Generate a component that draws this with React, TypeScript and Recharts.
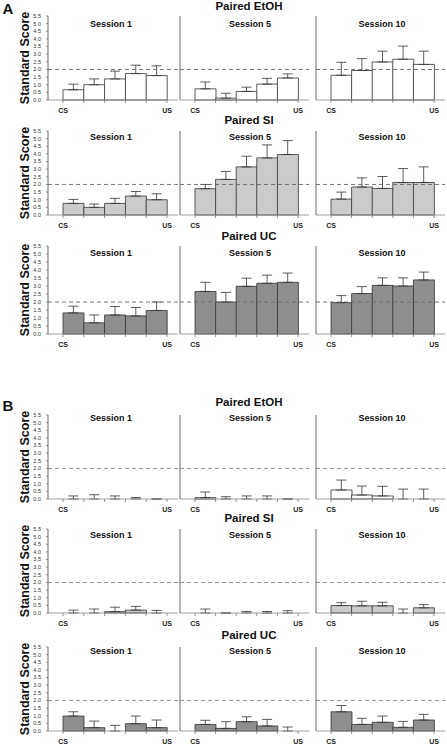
import React from "react";
import { ComposedChart, Bar, Line, XAxis, YAxis, ReferenceLine, ErrorBar } from "recharts";

const barSlots = ["1", "2", "3", "4", "5"];
const edgeLabels = ["CS", "US"];
const sessions = ["Session 1", "Session 5", "Session 10"];
const groups = ["Paired EtOH", "Paired SI", "Paired UC"];
const yTicks = [0, 0.5, 1, 1.5, 2, 2.5, 3, 3.5, 4, 4.5, 5, 5.5];
const criterion = 2.0;

// Panel A means / SEM, one inner array per session
const aEtohMean = [
  [0.67, 1.0, 1.38, 1.73, 1.6],
  [0.73, 0.12, 0.56, 1.04, 1.44],
  [1.62, 1.93, 2.49, 2.67, 2.33],
];
const aEtohSem = [
  [0.37, 0.38, 0.51, 0.55, 0.64],
  [0.45, 0.32, 0.28, 0.38, 0.27],
  [0.85, 0.78, 0.71, 0.86, 0.87],
];
const aSiMean = [
  [0.76, 0.5, 0.76, 1.24, 1.0],
  [1.72, 2.33, 3.15, 3.74, 3.96],
  [1.04, 1.83, 1.74, 2.13, 2.13],
];
const aSiSem = [
  [0.26, 0.22, 0.33, 0.3, 0.39],
  [0.28, 0.52, 0.7, 0.85, 0.91],
  [0.46, 0.6, 0.78, 0.91, 1.02],
];
const aUcMean = [
  [1.32, 0.7, 1.19, 1.13, 1.47],
  [2.66, 2.0, 2.98, 3.17, 3.23],
  [1.96, 2.53, 3.04, 3.0, 3.38],
];
const aUcSem = [
  [0.42, 0.49, 0.53, 0.53, 0.53],
  [0.57, 0.6, 0.51, 0.51, 0.58],
  [0.44, 0.43, 0.47, 0.51, 0.49],
];

// Panel B
const bEtohMean = [
  [0, 0, 0, 0, 0],
  [0.09, 0, 0, 0, 0],
  [0.59, 0.26, 0.2, 0, 0],
];
const bEtohSem = [
  [0.2, 0.28, 0.2, 0.1, 0],
  [0.37, 0.15, 0.2, 0.2, 0],
  [0.65, 0.59, 0.63, 0.65, 0.65],
];
const bSiMean = [
  [0, 0, 0.09, 0.19, 0],
  [0, 0, 0, 0, 0],
  [0.49, 0.47, 0.47, 0, 0.34],
];
const bSiSem = [
  [0.19, 0.26, 0.29, 0.24, 0.17],
  [0.26, 0, 0.1, 0.1, 0.15],
  [0.19, 0.3, 0.23, 0.26, 0.21],
];
const bUcMean = [
  [0.98, 0.22, 0, 0.48, 0.22],
  [0.43, 0.17, 0.61, 0.33, 0],
  [1.26, 0.43, 0.57, 0.24, 0.72],
];
const bUcSem = [
  [0.28, 0.43, 0.37, 0.5, 0.5],
  [0.27, 0.44, 0.32, 0.43, 0.26],
  [0.41, 0.4, 0.41, 0.39, 0.37],
];

const FONT = "'Liberation Sans', Arial, sans-serif";
const INK = "#333";
const fills = ["#ffffff", "#cbcbcb", "#8e8e8e"];

// layout
const cols = [
  { axisX: 48, endX: 178, labelX: 111 },
  { axisX: 180, endX: 309, labelX: 250 },
  { axisX: 316, endX: 445, labelX: 382 },
];
const panels = [
  {
    letter: "A",
    letterY: 8,
    dash: "#666",
    rows: [
      { top: 16, bottom: 100, titleY: 7, sessY: 24 },
      { top: 131, bottom: 215, titleY: 121, sessY: 137 },
      { top: 246, bottom: 334, titleY: 237, sessY: 253 },
    ],
    means: [aEtohMean, aSiMean, aUcMean],
    sems: [aEtohSem, aSiSem, aUcSem],
  },
  {
    letter: "B",
    letterY: 405,
    dash: "#8a8a8a",
    rows: [
      { top: 415, bottom: 499, titleY: 403, sessY: 418 },
      { top: 529, bottom: 613, titleY: 519, sessY: 535 },
      { top: 647, bottom: 731, titleY: 636, sessY: 651 },
    ],
    means: [bEtohMean, bSiMean, bUcMean],
    sems: [bEtohSem, bSiSem, bUcSem],
  },
];

const Y_W = 20;
const TOP_M = 6;
const PAD_L = 15;
const PAD_R = 11;

function Txt({ x, y, size, children, rotate }: any) {
  return (
    <div
      style={{
        position: "absolute",
        left: x,
        top: y,
        transform: `translate(-50%, -50%)${rotate ? " rotate(-90deg)" : ""}`,
        fontFamily: FONT,
        fontWeight: "bold",
        fontSize: size,
        whiteSpace: "nowrap",
        color: "#111",
        lineHeight: 1,
      }}
    >
      {children}
    </div>
  );
}

function SessionPlot({ col, row, means, sems, fill, dash, showLabels }: any) {
  const plotW = col.endX - col.axisX;
  const plotH = row.bottom - row.top;
  const band = (plotW - PAD_L - PAD_R) / barSlots.length;
  const data = barSlots.map((s, i) => ({ slot: s, mean: means[i], err: [0, sems[i]] }));

  const EdgeTick = (props: any) => {
    const { x, y, index } = props;
    const last = index === barSlots.length - 1;
    const lx = x - band / 2;
    const rx = x + band / 2;
    return (
      <g>
        <line x1={lx} x2={lx} y1={y} y2={y + 3} stroke="#777" strokeWidth={0.8} />
        {last && <line x1={rx} x2={rx} y1={y} y2={y + 3} stroke="#777" strokeWidth={0.8} />}
        {index === 0 && (
          <text x={lx} y={y + 11} textAnchor="middle" dominantBaseline="middle" fontSize={7} fontWeight="bold" fontFamily={FONT} fill="#222">
            {edgeLabels[0]}
          </text>
        )}
        {last && (
          <text x={rx} y={y + 11} textAnchor="middle" dominantBaseline="middle" fontSize={7} fontWeight="bold" fontFamily={FONT} fill="#222">
            {edgeLabels[1]}
          </text>
        )}
      </g>
    );
  };

  return (
    <div style={{ position: "absolute", left: col.axisX - Y_W, top: row.top - TOP_M }}>
      <ComposedChart
        width={Y_W + plotW + 1}
        height={TOP_M + plotH + 20}
        data={data}
        margin={{ top: TOP_M, right: 1, left: 0, bottom: 0 }}
        barCategoryGap={0}
      >
        <XAxis
          dataKey="slot"
          height={20}
          padding={{ left: PAD_L, right: PAD_R }}
          axisLine={{ stroke: "#888", strokeWidth: 0.8 }}
          tickLine={false}
          tickSize={0}
          tickMargin={0}
          interval={0}
          tick={<EdgeTick />}
        />
        <YAxis
          width={Y_W}
          type="number"
          domain={[0, 5.5]}
          ticks={yTicks}
          interval={0}
          axisLine={{ stroke: "#444", strokeWidth: 0.8 }}
          tickLine={{ stroke: "#555", strokeWidth: 0.6 }}
          tickSize={2}
          tickMargin={5}
          tickFormatter={(v: number) => v.toFixed(1)}
          tick={showLabels ? { fontSize: 5.5, fill: "#333", fontFamily: FONT } : false}
        />
        <Bar dataKey="mean" fill={fill} stroke={INK} strokeWidth={0.8} isAnimationActive={false} />
        {/* invisible line only carries the SEM whiskers, so zero-height bars keep theirs */}
        <Line dataKey="mean" stroke="none" dot={false} activeDot={false} isAnimationActive={false}>
          <ErrorBar dataKey="err" direction="y" width={5} stroke={INK} strokeWidth={0.8} />
        </Line>
        <ReferenceLine y={criterion} stroke={dash} strokeDasharray="4 3" strokeWidth={0.9} />
      </ComposedChart>
    </div>
  );
}

export default function App() {
  return (
    <div style={{ position: "absolute", left: 0, top: 0, width: 447, height: 745, background: "#fff", overflow: "hidden" }}>
      {panels.map((p) => (
        <React.Fragment key={p.letter}>
          <Txt x={8} y={p.letterY} size={15}>
            {p.letter}
          </Txt>
          {p.rows.map((row, ri) => (
            <React.Fragment key={ri}>
              <Txt x={249} y={row.titleY} size={11.5}>
                {groups[ri]}
              </Txt>
              <Txt x={25} y={(row.top + row.bottom) / 2} size={12.5} rotate>
                Standard Score
              </Txt>
              {cols.map((col, ci) => (
                <React.Fragment key={ci}>
                  <SessionPlot
                    col={col}
                    row={row}
                    means={p.means[ri][ci]}
                    sems={p.sems[ri][ci]}
                    fill={fills[ri]}
                    dash={p.dash}
                    showLabels={ci === 0}
                  />
                  <Txt x={col.labelX} y={row.sessY} size={9}>
                    {sessions[ci]}
                  </Txt>
                </React.Fragment>
              ))}
            </React.Fragment>
          ))}
        </React.Fragment>
      ))}
    </div>
  );
}
